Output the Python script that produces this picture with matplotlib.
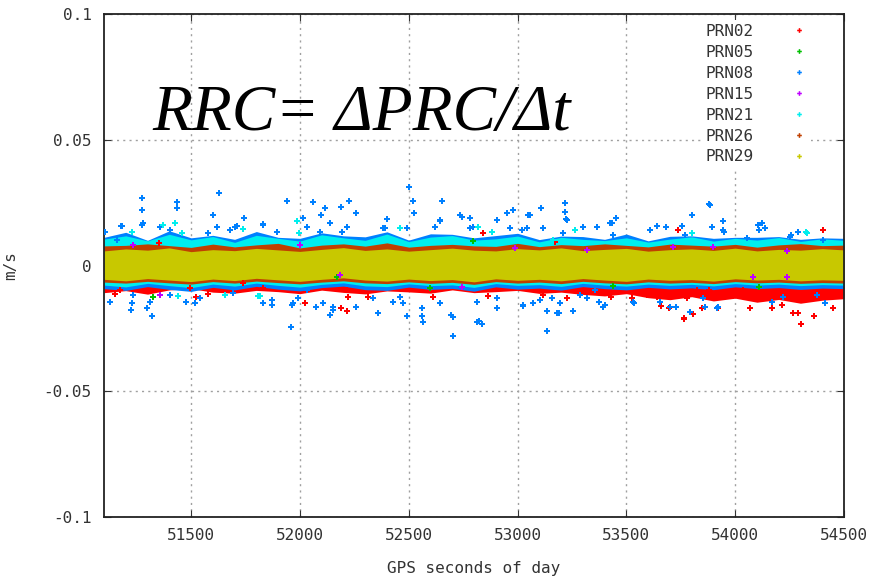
import matplotlib
matplotlib.use("Agg")
import matplotlib.pyplot as plt

# band envelopes (dense core of each series), read every 100 s
t_band = list(range(51100, 54501, 100))

prn29_hi = [0.0058, 0.0066, 0.0061, 0.0070, 0.0055, 0.0063, 0.0059, 0.0068, 0.0062, 0.0056,
            0.0064, 0.0071, 0.0060, 0.0066, 0.0057, 0.0063, 0.0069, 0.0061, 0.0058, 0.0067,
            0.0062, 0.0070, 0.0059, 0.0064, 0.0068, 0.0057, 0.0063, 0.0066, 0.0060, 0.0069,
            0.0058, 0.0064, 0.0061, 0.0067, 0.0062]
prn29_lo = [-0.0055, -0.0061, -0.0052, -0.0058, -0.0064, -0.0054, -0.0060, -0.0051, -0.0057,
            -0.0063, -0.0055, -0.0049, -0.0058, -0.0062, -0.0054, -0.0060, -0.0056, -0.0065,
            -0.0053, -0.0059, -0.0055, -0.0061, -0.0052, -0.0058, -0.0063, -0.0054, -0.0059,
            -0.0056, -0.0062, -0.0053, -0.0058, -0.0055, -0.0061, -0.0057, -0.0059]
prn26_hi = [0.0078, 0.0080, 0.0086, 0.0079, 0.0072, 0.0085, 0.0074, 0.0082, 0.0088, 0.0070,
            0.0081, 0.0086, 0.0077, 0.0090, 0.0073, 0.0080, 0.0084, 0.0078, 0.0076, 0.0088,
            0.0075, 0.0083, 0.0079, 0.0086, 0.0080, 0.0074, 0.0085, 0.0081, 0.0077, 0.0084,
            0.0073, 0.0082, 0.0087, 0.0079, 0.0081]
prn26_lo = [-0.0066, -0.0070, -0.0063, -0.0069, -0.0074, -0.0064, -0.0070, -0.0062, -0.0068,
            -0.0073, -0.0066, -0.0061, -0.0069, -0.0072, -0.0065, -0.0071, -0.0067, -0.0075,
            -0.0064, -0.0070, -0.0066, -0.0072, -0.0063, -0.0069, -0.0073, -0.0065, -0.0070,
            -0.0067, -0.0072, -0.0064, -0.0069, -0.0066, -0.0071, -0.0068, -0.0070]
prn21_hi = [0.0105, 0.0118, 0.0098, 0.0124, 0.0102, 0.0115, 0.0092, 0.0120, 0.0108, 0.0097,
            0.0122, 0.0110, 0.0100, 0.0125, 0.0095, 0.0113, 0.0119, 0.0101, 0.0106, 0.0117,
            0.0094, 0.0112, 0.0104, 0.0099, 0.0110, 0.0093, 0.0105, 0.0114, 0.0097, 0.0108,
            0.0101, 0.0111, 0.0096, 0.0106, 0.0100]
prn21_lo = [-0.0078, -0.0085, -0.0071, -0.0080, -0.0088, -0.0074, -0.0082, -0.0070, -0.0079,
            -0.0086, -0.0075, -0.0069, -0.0081, -0.0084, -0.0073, -0.0080, -0.0077, -0.0087,
            -0.0072, -0.0079, -0.0076, -0.0083, -0.0071, -0.0078, -0.0082, -0.0074, -0.0079,
            -0.0075, -0.0081, -0.0072, -0.0078, -0.0074, -0.0080, -0.0076, -0.0078]
prn08_hi = [0.0112, 0.0132, 0.0100, 0.0138, 0.0110, 0.0120, 0.0104, 0.0135, 0.0112, 0.0108,
            0.0130, 0.0118, 0.0114, 0.0134, 0.0101, 0.0126, 0.0124, 0.0110, 0.0119, 0.0128,
            0.0103, 0.0117, 0.0115, 0.0104, 0.0125, 0.0098, 0.0116, 0.0118, 0.0108, 0.0112,
            0.0112, 0.0115, 0.0104, 0.0110, 0.0108]
prn08_lo = [-0.0092, -0.0099, -0.0084, -0.0095, -0.0103, -0.0087, -0.0097, -0.0083, -0.0094,
            -0.0101, -0.0088, -0.0082, -0.0096, -0.0099, -0.0086, -0.0095, -0.0091, -0.0102,
            -0.0085, -0.0094, -0.0090, -0.0098, -0.0084, -0.0092, -0.0097, -0.0087, -0.0093,
            -0.0089, -0.0096, -0.0085, -0.0092, -0.0088, -0.0095, -0.0090, -0.0092]
prn02_hi = [-0.0040] * 35
prn02_lo = [-0.0108, -0.0100, -0.0114, -0.0097, -0.0092, -0.0106, -0.0110, -0.0099, -0.0104,
            -0.0112, -0.0098, -0.0107, -0.0113, -0.0101, -0.0105, -0.0110, -0.0097, -0.0108,
            -0.0104, -0.0099, -0.0111, -0.0106, -0.0115, -0.0121, -0.0112, -0.0128, -0.0136,
            -0.0124, -0.0141, -0.0130, -0.0146, -0.0135, -0.0150, -0.0138, -0.0132]

# scattered points outside the core bands
prn02_t = [51151, 51175, 51300, 51354, 51495, 51521, 51580, 51740, 51832, 52024, 52188,
           52218, 52215, 52223, 52315, 52613, 52843, 52866, 53119, 53172, 53226, 53430,
           53525, 53594, 53640, 53658, 53698, 53739, 53765, 53767, 53777, 53805, 53823,
           53846, 53878, 53923, 53992, 54038, 54053, 54068, 54145, 54168, 54214, 54265,
           54287, 54301, 54344, 54364, 54402, 54413, 54451, 54467]
prn02_v = [-0.0112, -0.0098, -0.0100, 0.0091, -0.0091, -0.0124, -0.0115, -0.0071, -0.0091,
           -0.0148, -0.0170, -0.0180, -0.0097, -0.0124, -0.0124, -0.0124, 0.0130, -0.0121,
           -0.0117, 0.0095, -0.0130, -0.0127, -0.0130, -0.0117, -0.0124, -0.0161, -0.0168,
           0.0141, -0.0210, -0.0213, -0.0130, -0.0193, -0.0097, -0.0168, -0.0097, -0.0168,
           -0.0121, -0.0097, -0.0104, -0.0168, -0.0121, -0.0168, -0.0157, -0.0190, -0.0190,
           -0.0233, -0.0124, -0.0201, 0.0141, -0.0150, -0.0170, -0.0111]

prn05_t = [51327, 52172, 52598, 52797, 53440, 54111]
prn05_v = [-0.0124, -0.0045, -0.0091, 0.0099, -0.0082, -0.0087]

prn08_t = [51178, 51273, 51276, 51278, 51426, 51434, 51437, 51602, 51630, 51702, 51745,
           51829, 51940, 51985, 52031, 52062, 52097, 52117, 52188, 52215, 52224, 52260,
           52391, 52399, 52501, 52521, 52524, 52621, 52644, 52652, 52736, 52782, 52797,
           52953, 52981, 53042, 53050, 53107, 53119, 53211, 53218, 53220, 53223, 53302,
           53364, 53433, 53453, 53609, 53640, 53682, 53754, 53800, 53880, 53892, 53943,
           53949, 54053, 54111, 54122, 54137, 54255, 54287,
           51105, 51181, 51158, 51273, 51357, 51403, 51579, 51617, 51679, 51710, 51832,
           51893, 52016, 52093, 52139, 52192, 52384, 52491, 52644, 52744, 52782, 52904,
           52966, 53020, 53058, 53226, 53425, 53440, 53770, 53885, 53946, 54107, 54252,
           54405,
           51223, 51227, 51235, 51299, 51311, 51322, 51477, 51518, 51829, 51870, 51958,
           51962, 51993, 52074, 52138, 52151, 52260, 52360, 52429, 52475, 52494, 52560,
           52565, 52644, 52693, 52702, 52815, 52821, 52835, 52904, 53027, 53073, 53134,
           53137, 53157, 53180, 53192, 53257, 53318, 53376, 53394, 53535, 53655, 53728,
           53854, 53919, 54221, 54413,
           51128, 51235, 51403, 51541, 51694, 51832, 51870, 51970, 52031, 52108, 52154,
           52337, 52460, 52560, 52644, 52705, 52813, 52904, 53027, 53103, 53195, 53287,
           53356, 53402, 53532, 53700, 53792, 53861, 53915, 54168, 54375]
prn08_v = [0.0158, 0.0221, 0.0267, 0.0168, 0.0168, 0.0230, 0.0251, 0.0201, 0.0287, 0.0154,
           0.0188, 0.0164, 0.0258, 0.0178, 0.0154, 0.0251, 0.0200, 0.0230, 0.0231, 0.0154,
           0.0258, 0.0210, 0.0148, 0.0184, 0.0311, 0.0258, 0.0208, 0.0154, 0.0177, 0.0258,
           0.0201, 0.0188, 0.0154, 0.0208, 0.0221, 0.0148, 0.0201, 0.0230, 0.0148, 0.0128,
           0.0250, 0.0214, 0.0184, 0.0154, 0.0152, 0.0168, 0.0188, 0.0141, 0.0158, 0.0152,
           0.0157, 0.0201, 0.0243, 0.0154, 0.0178, 0.0134, 0.0110, 0.0141, 0.0168, 0.0148,
           0.0121, 0.0132,
           0.0134, 0.0157, 0.0101, 0.0161, 0.0154, 0.0141, 0.0128, 0.0154, 0.0141, 0.0157,
           0.0161, 0.0134, 0.0188, 0.0134, 0.0168, 0.0134, 0.0148, 0.0148, 0.0180, 0.0194,
           0.0148, 0.0180, 0.0148, 0.0141, 0.0201, 0.0180, 0.0168, 0.0121, 0.0121, 0.0240,
           0.0141, 0.0161, 0.0114, 0.0101,
           -0.0177, -0.0148, -0.0117, -0.0168, -0.0144, -0.0201, -0.0144, -0.0150, -0.0148,
           -0.0157, -0.0246, -0.0157, -0.0130, -0.0166, -0.0197, -0.0164, -0.0164, -0.0190,
           -0.0144, -0.0150, -0.0201, -0.0201, -0.0223, -0.0150, -0.0197, -0.0280, -0.0223,
           -0.0220, -0.0233, -0.0170, -0.0161, -0.0150, -0.0180, -0.0259, -0.0130, -0.0190,
           -0.0190, -0.0180, -0.0130, -0.0144, -0.0164, -0.0148, -0.0144, -0.0164, -0.0130,
           -0.0164, -0.0124, -0.0148,
           -0.0144, -0.0117, -0.0117, -0.0130, -0.0110, -0.0150, -0.0137, -0.0150, -0.0097,
           -0.0150, -0.0177, -0.0130, -0.0124, -0.0170, -0.0150, -0.0204, -0.0144, -0.0130,
           -0.0157, -0.0137, -0.0150, -0.0117, -0.0097, -0.0157, -0.0144, -0.0164, -0.0184,
           -0.0164, -0.0170, -0.0144, -0.0117]

prn15_t = [51235, 51357, 52001, 52184, 52744, 52989, 53318, 53716, 53900, 54084, 54237, 54240]
prn15_v = [0.0082, -0.0117, 0.0082, -0.0038, -0.0084, 0.0068, 0.0062, 0.0075, 0.0075,
           -0.0045, -0.0045, 0.0059]

prn21_t = [51230, 51372, 51426, 51441, 51457, 51656, 51740, 51809, 51817, 51985, 51996,
           52460, 52820, 52881, 53165, 53264, 53800, 54326, 54329]
prn21_v = [0.0135, 0.0161, 0.0168, -0.0121, 0.0128, -0.0117, 0.0144, -0.0121, -0.0121,
           0.0178, 0.0128, 0.0148, 0.0154, 0.0134, 0.0101, 0.0141, 0.0130, 0.0132, 0.0130]

labels = ['PRN02', 'PRN05', 'PRN08', 'PRN15', 'PRN21', 'PRN26', 'PRN29']
colors = ['#ff0000', '#00c000', '#0080ff', '#c000ff', '#00eeee', '#c04000', '#c8c800']

x_ticks = [51500, 52000, 52500, 53000, 53500, 54000, 54500]
y_ticks = [-0.1, -0.05, 0, 0.05, 0.1]
y_tick_labels = ['-0.1', '-0.05', '0', '0.05', '0.1']

fig = plt.figure(figsize=(8.75, 5.81), dpi=100)
ax = fig.add_axes([104 / 875, 1 - 517 / 581, 740 / 875, 503 / 581])

mono = 'DejaVu Sans Mono'
ms = 4.2

bands = [(prn02_lo, prn02_hi), None, (prn08_lo, prn08_hi), None,
         (prn21_lo, prn21_hi), (prn26_lo, prn26_hi), (prn29_lo, prn29_hi)]
points = [(prn02_t, prn02_v), (prn05_t, prn05_v), (prn08_t, prn08_v), (prn15_t, prn15_v),
          (prn21_t, prn21_v), ([], []), ([], [])]

for band, pts, lab, col in zip(bands, points, labels, colors):
    if band is not None:
        ax.fill_between(t_band, band[0], band[1], color=col, lw=0, zorder=2)
    ax.plot(pts[0], pts[1], 'P', ms=ms, mew=0, color=col, label=lab, zorder=3)

ax.set_xlim(51100, 54500)
ax.set_ylim(-0.1, 0.1)
ax.set_xticks(x_ticks)
ax.set_yticks(y_ticks)
ax.set_yticklabels(y_tick_labels)
ax.tick_params(direction='in', length=5, width=0.8, top=True, right=True,
               labelsize=11.5, colors='#333333')
ax.tick_params(axis='x', pad=8)
ax.tick_params(axis='y', pad=9)
for lab in ax.get_xticklabels() + ax.get_yticklabels():
    lab.set_family(mono)
ax.grid(True, color='#a0a0a0', linestyle=(0, (1.5, 3)), lw=1.0, zorder=0)
ax.set_axisbelow(True)
for s in ax.spines.values():
    s.set_linewidth(1.3)
    s.set_color('#222222')

ax.set_xlabel('GPS seconds of day', family=mono, fontsize=11.5, color='#333333', labelpad=13)
ax.set_ylabel('m/s', family=mono, fontsize=11.5, color='#333333', labelpad=18)

leg = ax.legend(loc='upper left', bbox_to_anchor=((702 - 104) / 740, 1 - 6 / 503),
                prop={'family': mono, 'size': 11.5}, markerfirst=False, markerscale=0.8,
                handlelength=1.0, handletextpad=2.3, labelspacing=0.37, borderpad=0.25,
                frameon=True, fancybox=False, framealpha=1.0, edgecolor='none',
                facecolor='white', borderaxespad=0)
for txt in leg.get_texts():
    txt.set_color('#333333')

fig.text(152 / 875, 1 - 130 / 581, 'RRC= \u0394PRC/\u0394t', family='Liberation Serif',
         style='italic', fontsize=47, va='baseline', ha='left', color='black')

fig.savefig('out.png', dpi=100)
